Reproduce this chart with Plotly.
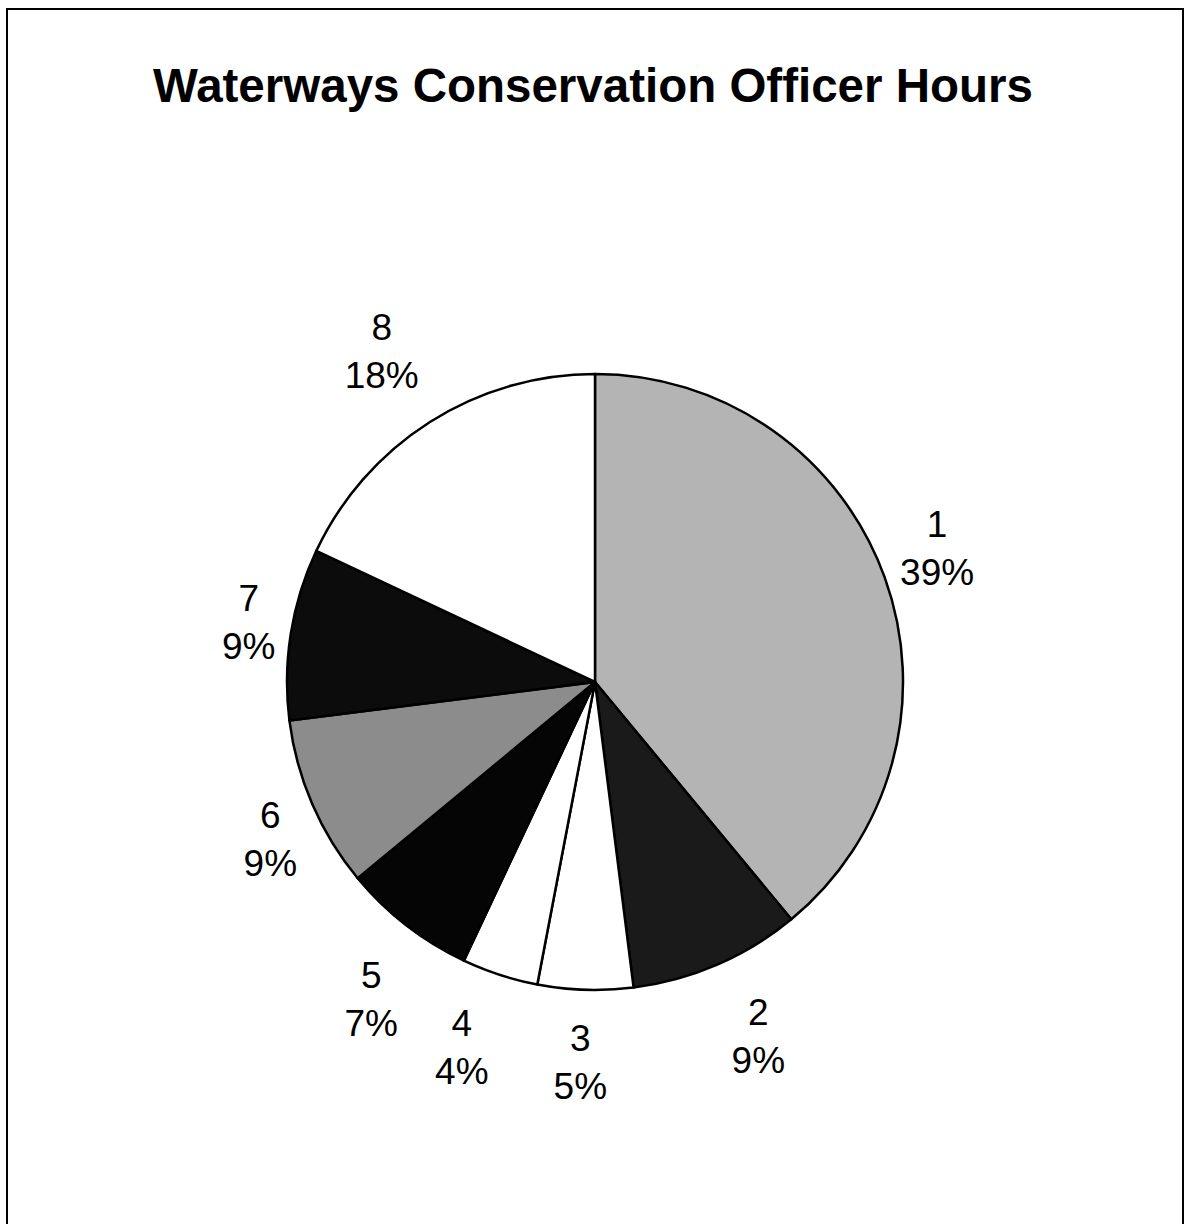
import plotly.graph_objects as go

categories = ["1", "2", "3", "4", "5", "6", "7", "8"]
values = [39, 9, 5, 4, 7, 9, 9, 18]
colors = ["#b4b4b4", "#1a1a1a", "#ffffff", "#ffffff", "#050505", "#8c8c8c", "#0c0c0c", "#ffffff"]

# layout/style: pixel nudges of each outside label (dx right, dy down)
label_nudges = [(-7, -24), (-8, 34), (44, 28), (11, 32), (14, 46), (7, 28), (7, -10), (11, -39)]

W, H = 1186, 1224
cx, cy, r = 595, 682, 308


def dom(dx=0, dy=0):
    return dict(x=[(cx - r + dx) / W, (cx + r + dx) / W],
                y=[1 - (cy + r + dy) / H, 1 - (cy - r + dy) / H])


font = dict(family="Liberation Sans, Arial", size=37, color="#000000")

fig = go.Figure()
fig.add_trace(go.Pie(
    labels=categories, values=values, sort=False, direction="clockwise", rotation=0,
    marker=dict(colors=colors, line=dict(color="#000000", width=2.5)),
    textinfo="none", showlegend=False, domain=dom(),
))
# one transparent overlay per label so each label is placed independently
for i in range(len(categories)):
    tmpl = ["%{label}<br>%{percent:.0%}" if j == i else "" for j in range(len(categories))]
    dx, dy = label_nudges[i]
    fig.add_trace(go.Pie(
        labels=categories, values=values, sort=False, direction="clockwise", rotation=0,
        marker=dict(colors=["rgba(0,0,0,0)"] * len(categories), line=dict(width=0)),
        textposition="outside", texttemplate=tmpl, textfont=font,
        showlegend=False, hoverinfo="skip", domain=dom(dx, dy),
    ))

fig.update_layout(
    width=W, height=H,
    margin=dict(l=0, r=0, t=0, b=0),
    paper_bgcolor="#ffffff",
    title=dict(text="<b>Waterways Conservation Officer Hours</b>",
               x=0.5, xanchor="center", y=1 - 85 / H, yanchor="middle",
               font=dict(family="Liberation Sans, Arial", size=47.5, color="#000000")),
    shapes=[dict(type="rect", xref="paper", yref="paper",
                 x0=7 / W, x1=1183 / W, y0=-0.05, y1=1 - 9 / H,
                 line=dict(color="#000000", width=2))],
)

fig.write_html("out.html", config={"displayModeBar": False},
               post_script="document.body.style.margin='0';")
